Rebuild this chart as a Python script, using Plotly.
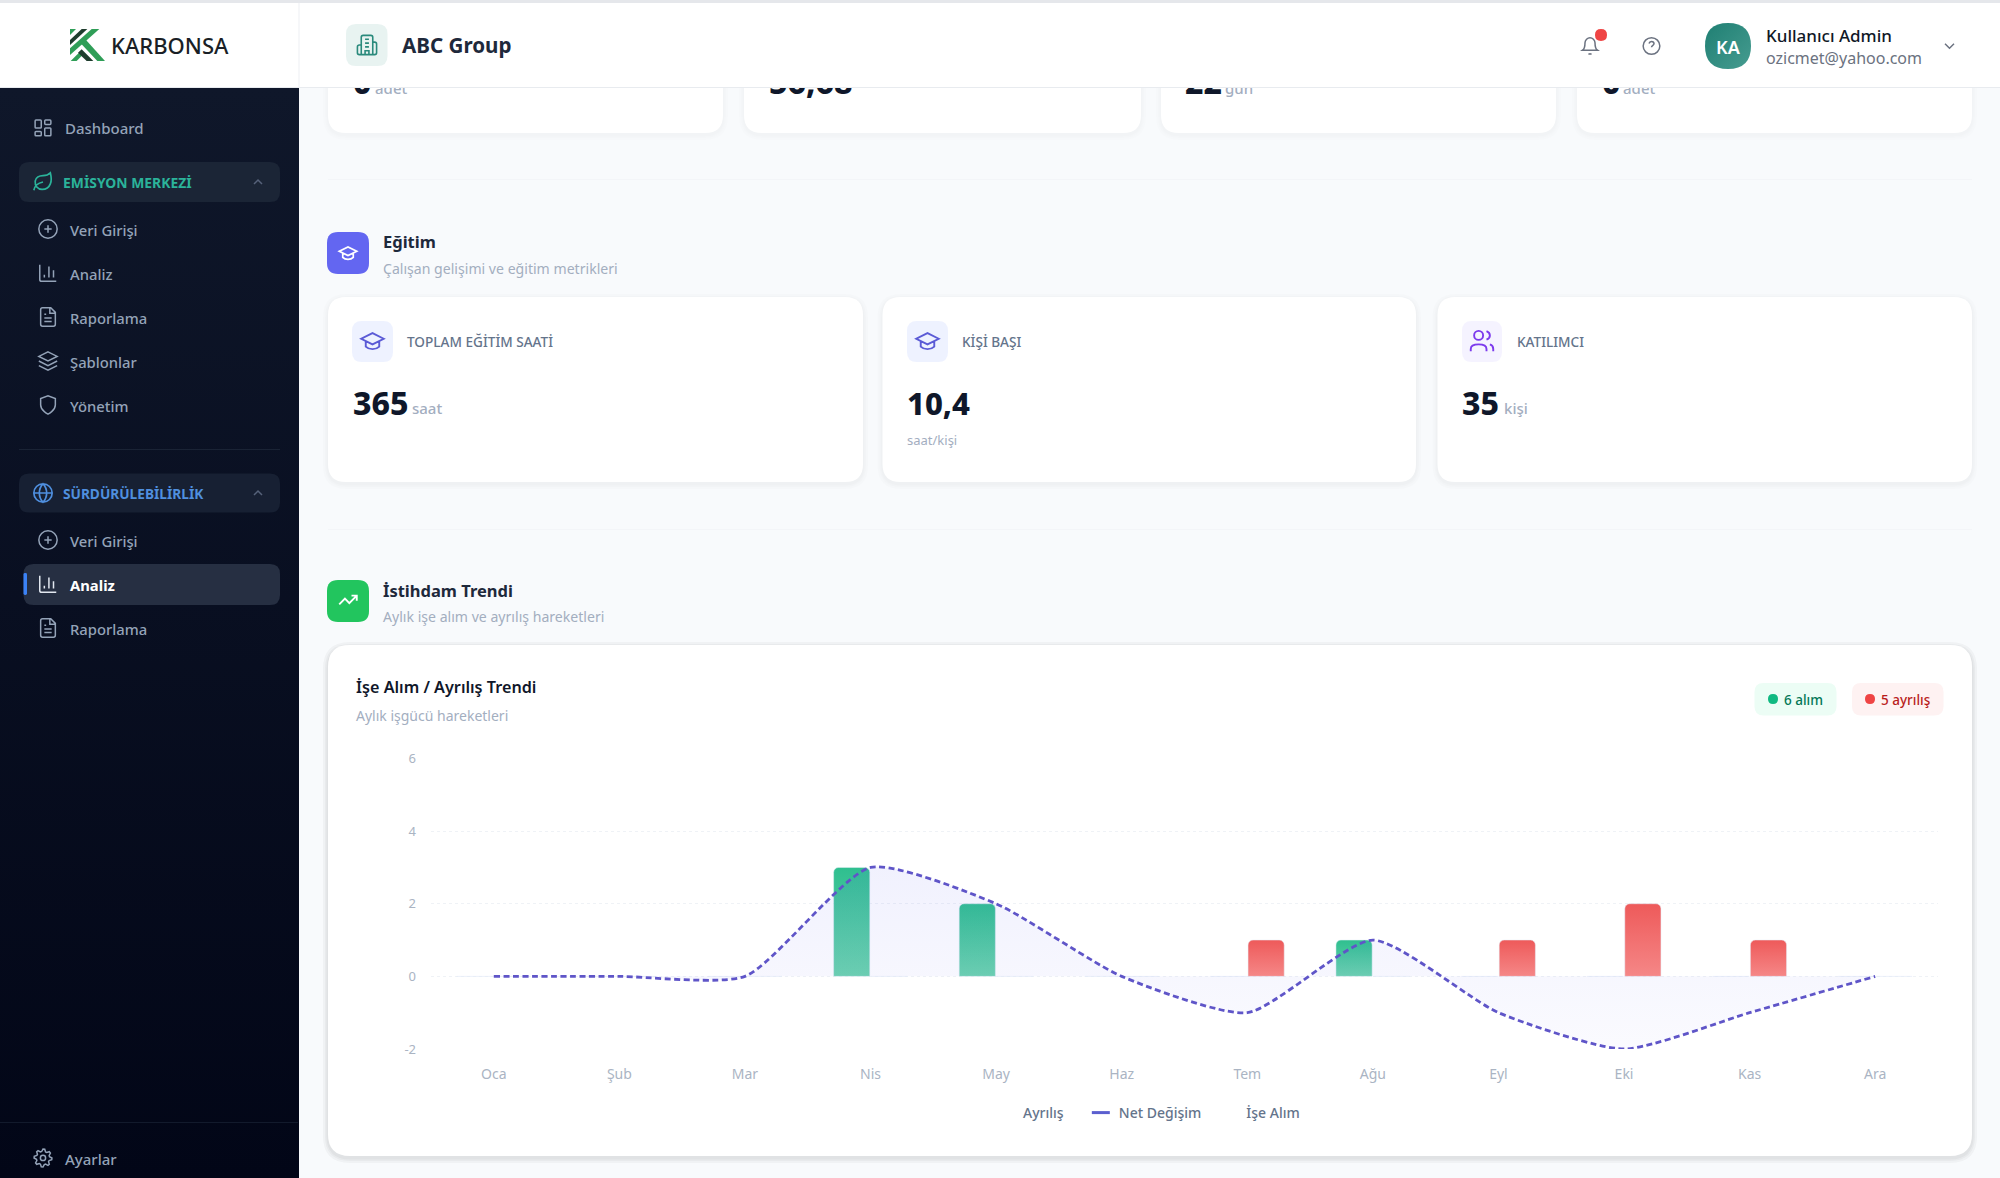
import math
import re
import plotly.graph_objects as go

W, H = 2000, 1178

# chart data
months = ["Oca", "Şub", "Mar", "Nis", "May", "Haz", "Tem", "Ağu", "Eyl", "Eki", "Kas", "Ara"]
hires = [0, 0, 0, 3, 2, 0, 0, 1, 0, 0, 0, 0]
leavers = [0, 0, 0, 0, 0, 0, 1, 0, 1, 2, 1, 0]
net_change = [0, 0, 0, 3, 2, 0, -1, 1, -1, -2, -1, 0]
y_ticks = [-2, 0, 2, 4, 6]
y_labels = ["-2", "0", "2", "4", "6"]

# numbers of the half hidden row under the header
top_values = ["0", "56,68", "22", "0"]
top_units = ["adet", "", "gün", "adet"]
top_value_x = [353, 769, 1185, 1602]
top_unit_x = [375, 860, 1225, 1623]

FONT = "Noto Sans"
shapes = []
notes = []


def px(x):
    return x / W


def py(y):
    return 1 - y / H


def rr_px(x0, y0, x1, y1, r):
    return (f"M{x0+r} {y0} L{x1-r} {y0} Q{x1} {y0} {x1} {y0+r} L{x1} {y1-r} Q{x1} {y1} {x1-r} {y1} "
            f"L{x0+r} {y1} Q{x0} {y1} {x0} {y1-r} L{x0} {y0+r} Q{x0} {y0} {x0+r} {y0} Z")


def add_path(d, fill="rgba(0,0,0,0)", line=None, width=0, ox=0, oy=0, k=1):
    # d is written with absolute commands only, pairs of numbers are x y
    nums = iter(re.findall(r"[A-Za-z]|-?\d+\.?\d*", d))
    out = []
    for tok in nums:
        if tok.isalpha():
            out.append(tok)
        else:
            x = ox + float(tok) * k
            y = oy + float(next(nums)) * k
            out.append(f"{px(x):.5f},{py(y):.5f}")
    shapes.append(dict(type="path", path=" ".join(out), xref="paper", yref="paper", layer="below",
                       fillcolor=fill, line=dict(color=line or "rgba(0,0,0,0)", width=width)))
    return len(shapes) - 1


def box(x0, y0, x1, y1, r, fill):
    return add_path(rr_px(x0, y0, x1, y1, r), fill=fill)


def card(x0, y0, x1, y1, r=18, shadow=0.012):
    for grow in (5, 3, 1.5):
        box(x0 - grow, y0 - grow + 2, x1 + grow, y1 + grow + 2, r + grow, f"rgba(15,23,42,{shadow})")
    box(x0, y0, x1, y1, r, "#ffffff")


def circ(cx, cy, r):
    c = r * 0.5523
    return (f"M{cx-r} {cy} C{cx-r} {cy-c} {cx-c} {cy-r} {cx} {cy-r} C{cx+c} {cy-r} {cx+r} {cy-c} {cx+r} {cy} "
            f"C{cx+r} {cy+c} {cx+c} {cy+r} {cx} {cy+r} C{cx-c} {cy+r} {cx-r} {cy+c} {cx-r} {cy} Z")


def gear():
    pts = []
    for i in range(32):
        a = i * math.pi / 16
        rad = 10.2 if i % 4 in (0, 1) else 7.6
        pts.append(f"{12 + rad*math.cos(a):.2f} {12 + rad*math.sin(a):.2f}")
    return "M" + " L".join(pts) + " Z " + circ(12, 12, 3)


ICONS = {
    "grid": rr_px(3, 3, 10, 12, 1) + rr_px(14, 3, 21, 8, 1) + rr_px(14, 12, 21, 21, 1) + rr_px(3, 16, 10, 21, 1),
    "leaf": "M11 20 C6 20 3 16 3.5 11 C4 7 8 5 12 5 C15 5 18 4 20 2 C21 6 22 10 20 14 C18.5 18 15 20 11 20 Z M2 21 C3 16 7 13 12 12",
    "plus": circ(12, 12, 10) + "M8 12 L16 12 M12 8 L12 16",
    "bars": "M3 3 L3 19 Q3 21 5 21 L21 21 M8 17 L8 14 M13 17 L13 5 M18 17 L18 9",
    "file": "M15 2 L6 2 Q4 2 4 4 L4 20 Q4 22 6 22 L18 22 Q20 22 20 20 L20 7 Z M14 2 L14 8 L20 8 M8 13 L16 13 M8 17 L16 17 M8 9 L10 9",
    "layers": "M12 2 L22 7 L12 12 L2 7 Z M2 12 L12 17 L22 12 M2 17 L12 22 L22 17",
    "shield": "M12 22 C12 22 20 18 20 12 L20 5 L12 2 L4 5 L4 12 C4 18 12 22 12 22 Z",
    "globe": circ(12, 12, 10) + "M2 12 L22 12 M12 2 C15 5 16 9 16 12 C16 15 15 19 12 22 C9 19 8 15 8 12 C8 9 9 5 12 2 Z",
    "up": "M18 15 L12 9 L6 15",
    "down": "M6 9 L12 15 L18 9",
    "gear": gear(),
    "bell": "M6 8 C6 5 9 2 12 2 C15 2 18 5 18 8 C18 15 21 17 21 17 L3 17 C3 17 6 15 6 8 Z M10.3 21 C11 22 13 22 13.7 21",
    "help": circ(12, 12, 10) + "M9 9 C9.5 7 11 6.5 12 6.5 C14 6.5 15 8 15 9.2 C15 11 12 11.5 12 13.5 M12 17 L12 17.2",
    "building": ("M6 22 L6 4 Q6 2 8 2 L16 2 Q18 2 18 4 L18 22 Z M6 12 L4 12 Q2 12 2 14 L2 20 Q2 22 4 22 L6 22 "
                 "M18 9 L20 9 Q22 9 22 11 L22 20 Q22 22 20 22 L18 22 M10 6 L14 6 M10 10 L14 10 M10 14 L14 14 M10 22 L10 18 L14 18 L14 22"),
    "cap": "M22 10 L12 5 L2 10 L12 15 Z M6 12.5 L6 17 C9 20 15 20 18 17 L18 12.5",
    "users": circ(9, 7, 4) + "M2 21 L2 19 C2 16 5 15 9 15 C13 15 16 16 16 19 L16 21 M16 3.2 C18 4 19 5.5 19 7 C19 8.5 18 10 16 10.8 M22 21 L22 19 C22 17 20.5 15.5 19 15",
    "trend": "M22 7 L13.5 15.5 L8.5 10.5 L2 17 M16 7 L22 7 L22 13",
}


def icon(name, cx, cy, size, color, width=1.5):
    k = size / 24
    add_path(ICONS[name], line=color, width=width, ox=cx - 12 * k, oy=cy - 12 * k, k=k)


def txt(x, y, s, size, color, weight=400, anchor="left"):
    if anchor == "left":
        x -= 1.5
    notes.append(dict(x=px(x), y=py(y), xref="paper", yref="paper", text=s, showarrow=False,
                      xanchor=anchor, yanchor="middle", borderpad=0,
                      font=dict(family=FONT, size=size, color=color, weight=weight)))


# ---- page chrome ----
SIDE_TXT = "#94a3b8"
LABEL = "#64748b"
MUTED = "#a3aebf"
DARK = "#0f172a"

# top row of cards, they slide under the header
for x0, x1 in [(328, 723), (744, 1141), (1161, 1556), (1577, 1972)]:
    card(x0, 40, x1, 133, shadow=0.008)

side_idx = box(0, 88, 299, H, 0, "#0f172a")
box(0, 3, W, 88, 0, "#ffffff")
box(0, 0, W, 3, 0, "#e5e7eb")
box(0, 87, W, 88, 0, "#e8ebef")
box(298.5, 3, 299.5, 88, 0, "#eef0f3")

# logo, points
LOGO_X, LOGO_Y = 50, 15
for pts, col in [
    ("M60 42 L78 42 L60 60 Z", "#2f9e57"),
    ("M60 75 L95 42 L112 42 L60 90 Z", "#1f3d2e"),
    ("M60 100 L125 42 L148 42 L60 120 Z", "#2f9e57"),
    ("M92 85 L106 73 L165 138 L142 138 Z", "#2f9e57"),
    ("M62 138 L80 138 L100 118 L90 110 Z", "#2f9e57"),
    ("M84 113 L95 103 L130 138 L110 138 Z", "#1f3d2e"),
]:
    add_path(pts, fill=col, ox=LOGO_X, oy=LOGO_Y, k=1 / 3)
txt(111, 45, "KARBONSA", 22, "#1a1f26", 500)

box(346, 24, 387.5, 66, 10, "#e8f3f1")
icon("building", 367, 45, 23, "#2a8a7c", 1.6)
txt(402, 45.5, "ABC Group", 20.6, "#1e293b", 700)

icon("bell", 1590, 46, 20, "#6b7280")
box(1595, 29, 1607, 41, 6, "#ef4444")
icon("help", 1651.5, 46, 20, "#6b7280")
avatar_idx = box(1705, 23, 1751, 69, 23, "#2a8a7c")
txt(1728, 47, "KA", 18, "#ffffff", 600, "center")
txt(1766, 36, "Kullanıcı Admin", 17, "#111827", 500)
txt(1766, 58, "ozicmet@yahoo.com", 16, "#6b7280")
icon("down", 1949.5, 46, 18, "#6b7280")

# sidebar
icon("grid", 43, 128, 21, SIDE_TXT)
txt(65.5, 128, "Dashboard", 15, SIDE_TXT, 500)

box(19, 162, 280, 202, 10, "#1b2536")
icon("leaf", 43, 182, 22, "#2bb39a", 1.7)
txt(63.5, 182, "EMİSYON MERKEZİ", 13.9, "#2bb39a", 700)
icon("up", 258, 182, 16, "#56627a")
for yy, name, ic in [(230, "Veri Girişi", "plus"), (274, "Analiz", "bars"), (318, "Raporlama", "file"),
                     (362, "Şablonlar", "layers"), (406, "Yönetim", "shield")]:
    icon(ic, 48, yy - 1, 22, SIDE_TXT)
    txt(70, yy, name, 14.8, SIDE_TXT, 500)
box(19, 449, 280, 450, 0, "#1a2335")

box(19, 473.5, 280, 512.5, 10, "#172033")
icon("globe", 43, 493, 22, "#4f8fdf", 1.7)
txt(63.5, 493, "SÜRDÜRÜLEBİLİRLİK", 13.7, "#4f8fdf", 700)
icon("up", 258, 493, 16, "#56627a")
icon("plus", 48, 540, 22, SIDE_TXT)
txt(70, 541, "Veri Girişi", 14.8, SIDE_TXT, 500)
box(23.5, 564, 280, 605, 10, "#262f42")
box(23.5, 573, 27, 595, 1.5, "#3b82f6")
icon("bars", 48, 584, 22, "#e2e8f0")
txt(70, 585, "Analiz", 14.8, "#ffffff", 700)
icon("file", 48, 628, 22, SIDE_TXT)
txt(70, 629, "Raporlama", 14.8, SIDE_TXT, 500)
box(0, 1122, 298, 1123, 0, "#121a2c")
icon("gear", 43, 1158, 21, SIDE_TXT)
txt(65.5, 1159, "Ayarlar", 15, SIDE_TXT, 500)

# section: Eğitim
box(328, 179, 1972, 180, 0, "#f3f5f8")
box(327, 232, 369, 274, 11, "#6366f1")
icon("cap", 348, 253, 21, "#ffffff", 1.7)
txt(383.5, 241.5, "Eğitim", 16.5, "#1e293b", 700)
txt(383.5, 268, "Çalışan gelişimi ve eğitim metrikleri", 14.1, MUTED)

card(328, 297, 863, 482)
card(882.5, 297, 1416, 482)
card(1437.5, 297, 1972, 482)

box(352, 321, 393, 362, 10, "#eef2ff")
icon("cap", 372.5, 341, 27, "#5b5bd6", 1.9)
txt(407.5, 342, "TOPLAM EĞİTİM SAATİ", 13.6, LABEL, 500)
txt(353, 403, "365", 32, DARK, 800)
txt(412, 408, "saat", 15, MUTED, 500)

box(907, 321, 948, 362, 10, "#eef2ff")
icon("cap", 927.5, 341, 27, "#5b5bd6", 1.9)
txt(962, 342, "KİŞİ BAŞI", 13.6, LABEL, 500)
txt(907, 403, "10,4", 31, DARK, 800)
txt(907, 440, "saat/kişi", 13, MUTED)

box(1462, 321, 1502, 362, 10, "#f5f3ff")
icon("users", 1482, 341, 27, "#7c3aed", 1.9)
txt(1517, 342, "KATILIMCI", 13.6, LABEL, 500)
txt(1462, 403, "35", 32, DARK, 800)
txt(1504, 408, "kişi", 15, MUTED, 500)

# section: İstihdam
box(328, 529, 1972, 530, 0, "#f3f5f8")
box(327, 580, 369, 622, 11, "#22c55e")
icon("trend", 348, 600, 21, "#ffffff", 1.9)
txt(383.5, 590, "İstihdam Trendi", 16.5, "#1e293b", 700)
txt(383.5, 616, "Aylık işe alım ve ayrılış hareketleri", 14.1, MUTED)

card(328, 645, 1972, 1156, r=22, shadow=0.035)
txt(356, 687, "İşe Alım / Ayrılış Trendi", 16.2, DARK, 600)
txt(356, 715.5, "Aylık işgücü hareketleri", 14, MUTED)

box(1754.5, 683, 1836.5, 715.5, 9, "#ecfdf5")
box(1768, 694, 1778, 704, 5, "#10b981")
txt(1784, 699.5, "6 alım", 13.5, "#047857", 500)
box(1852, 683, 1943.5, 715.5, 9, "#fef2f2")
box(1865, 694, 1875, 704, 5, "#ef4444")
txt(1881.5, 699.5, "5 ayrılış", 13.5, "#b91c1c", 500)

# ---- the chart ----
fig = go.Figure()
fig.add_trace(go.Bar(x=months, y=hires, name="İşe Alım", marker_color="#34c192", legendrank=3, hoverinfo="x+y"))
fig.add_trace(go.Bar(x=months, y=leavers, name="Ayrılış", marker_color="#f06a6a", legendrank=1, hoverinfo="x+y"))
fig.add_trace(go.Scatter(
    x=months, y=net_change, name="Net Değişim", mode="lines", legendrank=2,
    line=dict(color="#5f55c8", width=2.8, dash="6px,3.5px", shape="spline", smoothing=0.6),
    fill="tozeroy",
    fillgradient=dict(type="vertical", colorscale=[[0, "rgba(99,102,241,0.03)"], [1, "rgba(99,102,241,0.09)"]]),
))
# cut off at the header line, so a second hidden subplot holds those texts
fig.add_trace(go.Scatter(x=top_value_x, y=[86] * 4, text=top_values, mode="text", textposition="middle right",
                         textfont=dict(family=FONT, size=32, color=DARK, weight=800),
                         xaxis="x2", yaxis="y2", showlegend=False, hoverinfo="skip"))
fig.add_trace(go.Scatter(x=top_unit_x, y=[90] * 4, text=top_units, mode="text", textposition="middle right",
                         textfont=dict(family=FONT, size=15, color=MUTED, weight=500),
                         xaxis="x2", yaxis="y2", showlegend=False, hoverinfo="skip"))

fig.update_layout(
    width=W, height=H, margin=dict(l=0, r=0, t=0, b=0, autoexpand=False),
    paper_bgcolor="#f8fafc", plot_bgcolor="rgba(0,0,0,0)",
    font=dict(family=FONT),
    barmode="group", bargap=0.4, bargroupgap=0.04, barcornerradius=5,
    shapes=shapes, annotations=notes,
    xaxis=dict(domain=[px(431), px(1938)], showgrid=False, zeroline=False, showline=False, ticks="",
               tickfont=dict(size=14, color="#aab4c3"), ticklabelstandoff=15, fixedrange=True),
    yaxis=dict(domain=[py(1049), py(758.5)], range=[-2, 6], tickvals=y_ticks, ticktext=y_labels,
               zeroline=False, showline=False, gridcolor="#eff2f6", griddash="dot", gridwidth=1, ticks="",
               tickfont=dict(size=13, color="#aab4c3"), ticklabelstandoff=14, fixedrange=True),
    xaxis2=dict(domain=[0, 1], range=[0, W], visible=False, anchor="y2", fixedrange=True),
    yaxis2=dict(domain=[0, py(88)], range=[H, 88], visible=False, anchor="x2", fixedrange=True),
    legend=dict(orientation="h", x=px(1149), y=py(1113), xanchor="center", yanchor="middle",
                bgcolor="rgba(0,0,0,0)", itemwidth=30,
                font=dict(family=FONT, size=14, color=LABEL, weight=500)),
    showlegend=True,
)

# gradients plotly has no option for, and the plain legend of the original
post = """
var gd = document.getElementById('{plot_id}');
document.documentElement.style.overflow = 'hidden';
document.body.style.margin = '0';
var svg = gd.querySelector('.main-svg');
var ns = 'http://www.w3.org/2000/svg';
var defs = document.createElementNS(ns, 'defs');
function grad(id, c0, c1, horiz) {
  var g = document.createElementNS(ns, 'linearGradient');
  g.setAttribute('id', id);
  g.setAttribute('x1', '0'); g.setAttribute('y1', '0');
  g.setAttribute('x2', horiz ? '1' : '0'); g.setAttribute('y2', '1');
  [[0, c0], [1, c1]].forEach(function (s) {
    var st = document.createElementNS(ns, 'stop');
    st.setAttribute('offset', s[0]); st.setAttribute('stop-color', s[1]);
    g.appendChild(st);
  });
  defs.appendChild(g);
}
grad('gGreen', '#2fbf8f', '#6cd3af');
grad('gRed', '#ee5a5a', '#f58787');
grad('gSide', '#0f172a', '#020617');
grad('gAvatar', '#1f7f73', '#469c90', true);
svg.insertBefore(defs, svg.firstChild);
var bars = gd.querySelectorAll('.barlayer .trace');
bars[0].querySelectorAll('path').forEach(function (p) { p.style.fill = 'url(#gGreen)'; });
bars[1].querySelectorAll('path').forEach(function (p) { p.style.fill = 'url(#gRed)'; });
gd.querySelector('.shapelayer path[data-index="SIDE"]').style.fill = 'url(#gSide)';
gd.querySelector('.shapelayer path[data-index="AVATAR"]').style.fill = 'url(#gAvatar)';
gd.querySelectorAll('.legend .legendpoints path, .legend .legendfill path').forEach(function (p) { p.style.display = 'none'; });
gd.querySelectorAll('.legend .legendlines path').forEach(function (p) {
  p.style.strokeDasharray = 'none';
  p.style.strokeWidth = '3px';
  p.style.stroke = '#5b5fcf';
  p.setAttribute('d', 'M13,0h18');
});
// first legend entry sits a bit further left in the original
var first = gd.querySelector('.legend .traces');
var tr = first.getAttribute('transform').match(/translate\\(([-\\d.]+)[, ]+([-\\d.]+)\\)/);
first.setAttribute('transform', 'translate(' + (parseFloat(tr[1]) - 10) + ',' + tr[2] + ')');
""".replace("SIDE", str(side_idx)).replace("AVATAR", str(avatar_idx))

fig.write_html("out.html", config=dict(displayModeBar=False), post_script=post)
